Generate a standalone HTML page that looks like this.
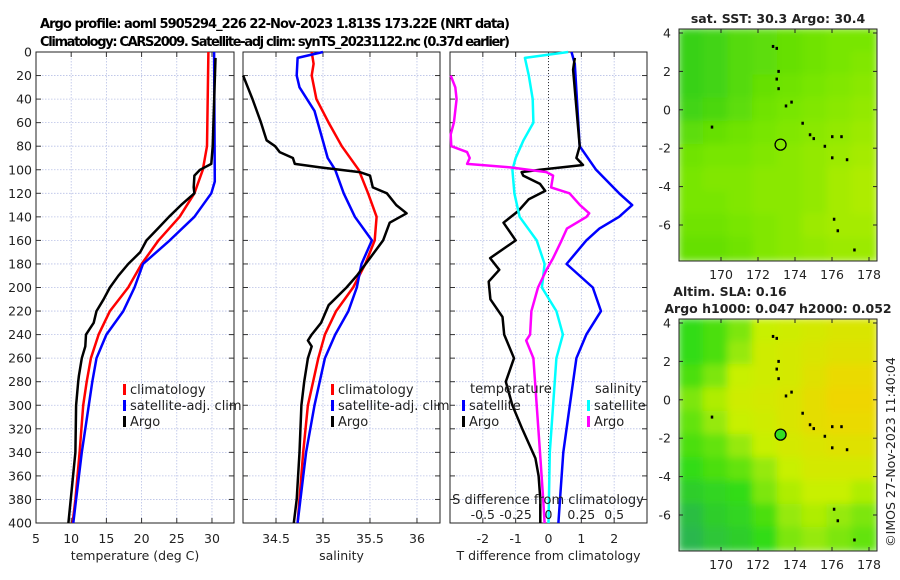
<!DOCTYPE html>
<html><head><meta charset="utf-8">
<style>
html,body{margin:0;padding:0;background:#fff;}
svg{display:block;font-family:"DejaVu Sans","Liberation Sans",sans-serif;}
</style></head>
<body>
<svg id="fig" width="900" height="580" viewBox="0 0 900 580" xmlns="http://www.w3.org/2000/svg">
<defs>
<filter id="blur1" x="0" y="0" width="1" height="1"><feGaussianBlur stdDeviation="4"/></filter>
<clipPath id="clipMap1"><rect x="679" y="29" width="198" height="232"/></clipPath>
<clipPath id="clipMap2"><rect x="679" y="319" width="198" height="232"/></clipPath>
</defs>
<text x="40" y="28" font-size="13" font-weight="bold" textLength="470">Argo profile: aoml 5905294_226 22-Nov-2023 1.813S 173.22E (NRT data)</text>
<text x="40" y="46" font-size="13" font-weight="bold" textLength="470">Climatology: CARS2009. Satellite-adj clim: synTS_20231122.nc (0.37d earlier)</text>
<g id="g"></g>
</svg>
<script>
// ---------- depth grid ----------
const depthTicks=[0,20,40,60,80,100,120,140,160,180,200,220,240,260,280,300,320,340,360,380,400];
// Temperature panel
const tempTicks=[5,10,15,20,25,30];
const tClimD=[0,80,100,120,140,160,180,200,220,240,260,280,300,340,380,400];
const tClimV=[29.5,29.3,28.7,27.5,25.4,22.4,20,18.1,15.5,13.9,12.8,12.2,11.7,11.2,10.6,10.2];
const tSatD=[0,110,120,140,160,180,200,220,240,260,280,300,340,380,400];
const tSatV=[30.3,30.4,29.9,27.5,24,20.2,19,17.4,15,13.6,13,12.5,11.5,10.7,10.3];
const tArgoD=[5,80,95,100,105,115,120,130,140,150,160,170,180,190,200,210,220,230,240,250,260,275,280,300,340,370,400];
const tArgoV=[30.5,30.1,29.9,28.3,27.5,27.4,27.5,25.6,23.9,22.3,20.7,19.8,18.1,16.7,15.5,14.6,13.6,13.2,12.1,12,11.5,11.1,11,10.7,10.6,10.1,9.6];
// Salinity panel
const salTicks=[34.5,35,35.5,36];
const sClimD=[0,10,20,40,60,80,100,120,140,160,180,200,220,240,260,300,340,400];
const sClimV=[34.88,34.9,34.88,34.93,35.06,35.2,35.38,35.48,35.57,35.55,35.45,35.32,35.14,35.02,34.95,34.84,34.79,34.73];
const sSatD=[0,5,20,30,50,70,90,100,120,140,160,180,200,220,240,260,300,340,400];
const sSatV=[35.0,34.73,34.72,34.75,34.91,34.98,35.05,35.13,35.22,35.34,35.52,35.41,35.36,35.27,35.13,35.02,34.91,34.82,34.73];
const sArgoD=[20,30,40,60,70,75,80,85,90,95,98,102,105,115,120,130,137,145,160,175,190,200,215,230,240,245,250,260,280,300,340,380,400];
const sArgoV=[34.15,34.2,34.25,34.34,34.38,34.4,34.49,34.54,34.68,34.7,34.97,35.39,35.5,35.53,35.68,35.78,35.89,35.71,35.64,35.5,35.36,35.25,35.06,34.98,34.88,34.84,34.88,34.84,34.8,34.77,34.75,34.72,34.69];
// Difference panel
const tDiffTicks=[-2,-1,0,1,2];
const sDiffTicks=[-0.5,-0.25,0,0.25,0.5];
const sDiffLabels=["-0.5","-0.25","0","0.25","0.5"];
const dTSatD=[0,10,80,100,120,130,140,150,160,180,200,220,240,260,300,340,380,400];
const dTSatV=[0.7,0.8,0.95,1.45,2.15,2.55,2.15,1.55,1.15,0.55,1.35,1.6,1.15,0.85,0.65,0.45,0.35,0.3];
const dTArgoD=[5,15,80,90,96,100,102,105,112,118,125,135,145,160,175,185,195,210,225,240,260,280,300,320,345,360,380,400];
const dTArgoV=[0.8,0.75,0.95,0.85,1.05,-0.26,-0.82,-0.77,-0.26,-0.1,-0.6,-0.92,-1.37,-1.0,-1.78,-1.5,-1.82,-1.77,-1.4,-1.35,-1.05,-1.3,-1.1,-0.8,-0.4,-0.3,-0.25,-0.25];
const dSSatD=[0,5,20,40,60,75,90,100,120,140,160,180,200,220,240,260,300,340,400];
const dSSatV=[0.15,-0.18,-0.15,-0.12,-0.115,-0.19,-0.25,-0.275,-0.26,-0.22,-0.09,-0.03,-0.05,0.06,0.11,0.06,0.035,0.01,0.0];
const dSArgoD=[20,30,40,60,70,80,85,90,95,98,102,105,115,120,130,137,140,150,160,175,185,200,220,240,245,260,300,340,380,400];
const dSArgoV=[-0.745,-0.71,-0.7,-0.72,-0.745,-0.74,-0.62,-0.6,-0.62,-0.29,-0.015,0.035,0.02,0.16,0.24,0.31,0.29,0.14,0.1,0.035,-0.015,-0.08,-0.13,-0.14,-0.17,-0.115,-0.09,-0.065,-0.04,-0.03];
// Maps
const lonTicks=[170,172,174,176,178];
const latTicks=[4,2,0,-2,-4,-6];
const sstGrid=[
[0.15,0.2,0.3,0.35,0.4,0.45,0.5,0.5],
[0.15,0.2,0.3,0.35,0.4,0.45,0.5,0.55],
[0.15,0.2,0.3,0.4,0.45,0.5,0.55,0.6],
[0.2,0.25,0.35,0.45,0.5,0.55,0.6,0.65],
[0.35,0.4,0.45,0.5,0.55,0.6,0.65,0.7],
[0.45,0.5,0.5,0.55,0.6,0.65,0.7,0.75],
[0.5,0.55,0.55,0.6,0.6,0.65,0.75,0.8],
[0.5,0.5,0.55,0.6,0.6,0.65,0.75,0.8],
[0.45,0.45,0.5,0.55,0.6,0.7,0.75,0.75],
[0.4,0.4,0.45,0.55,0.6,0.65,0.7,0.7]];
const slaGrid=[
[0.3,0.35,0.45,0.6,0.65,0.7,0.75,0.75],
[0.3,0.35,0.5,0.65,0.7,0.75,0.8,0.8],
[0.35,0.45,0.6,0.65,0.7,0.8,0.9,0.9],
[0.45,0.55,0.65,0.7,0.75,0.85,0.95,0.95],
[0.4,0.5,0.6,0.65,0.75,0.85,0.9,0.9],
[0.35,0.4,0.5,0.6,0.7,0.75,0.8,0.8],
[0.3,0.35,0.4,0.5,0.6,0.7,0.7,0.7],
[0.2,0.25,0.3,0.45,0.55,0.6,0.6,0.55],
[0.1,0.2,0.25,0.35,0.5,0.55,0.5,0.45],
[0.05,0.15,0.2,0.3,0.45,0.5,0.45,0.4]];
const coastLon=[172.8,173.0,173.1,173.0,173.1,173.5,173.8,174.4,174.8,175.0,175.6,176.0,176.5,176.0,176.8,176.1,176.3,177.2,169.5];
const coastLat=[3.3,3.2,2.0,1.6,1.1,0.2,0.4,-0.7,-1.3,-1.5,-1.9,-1.4,-1.4,-2.5,-2.6,-5.7,-6.3,-7.3,-0.9];
const argoLon=173.22, argoLat=-1.813;

const NS="http://www.w3.org/2000/svg";
const root=document.getElementById('g');
function mk(tag,attrs,parent){const e=document.createElementNS(NS,tag);for(const k in attrs)e.setAttribute(k,attrs[k]);(parent||root).appendChild(e);return e;}
function txt(x,y,s,size,anchor,parent){const t=mk('text',{x:x,y:y,'font-size':size||12,'text-anchor':anchor||'middle',fill:'#222'},parent);t.textContent=s;return t;}

const Y0=52,Y1=523;
function yD(d){return Y0+(d/400)*(Y1-Y0);}
function panel(name,x0,x1,vmin,vmax){return {name,x0,x1,f:v=>x0+(v-vmin)/(vmax-vmin)*(x1-x0)};}
const P1=panel('temperature',36,234,5,33.13);
const P2=panel('salinity',243,440,34.149,36.245);
const P3=panel('difference',450,647,-3,3);
const fS=v=>P3.f(v*4);

function frame(P,ticks,labels,xlabel,showY){
  const g=mk('g',{});
  
  
  const gr=mk('g',{},g);
  
  
  depthTicks.forEach(d=>{mk('line',{x1:P.x0,x2:P.x1,y1:yD(d),y2:yD(d),stroke:'#b8c0e6','stroke-width':0.8,'stroke-dasharray':'1.5,1.5'},gr);});
  ticks.forEach(v=>{mk('line',{x1:P.f(v),x2:P.f(v),y1:Y0,y2:Y1,stroke:'#b8c0e6','stroke-width':0.8,'stroke-dasharray':'1.5,1.5'},gr);});
  const ax=mk('g',{},g);
  
  
  depthTicks.forEach(d=>{
    mk('line',{x1:P.x0,x2:P.x0+5,y1:yD(d),y2:yD(d),stroke:'#333','stroke-width':1},ax);
    mk('line',{x1:P.x1-5,x2:P.x1,y1:yD(d),y2:yD(d),stroke:'#333','stroke-width':1},ax);
    if(showY){const t=txt(32,yD(d)+4.5,String(d),12.5,'end',ax);}
  });
  ticks.forEach((v,i)=>{
    mk('line',{x1:P.f(v),x2:P.f(v),y1:Y1,y2:Y1-5,stroke:'#333'},ax);
    mk('line',{x1:P.f(v),x2:P.f(v),y1:Y0,y2:Y0+5,stroke:'#333'},ax);
    const t=txt(P.f(v),Y1+20,labels[i],12.5,'middle',ax);
    
    
  });
  mk('rect',{x:P.x0,y:Y0,width:P.x1-P.x0,height:Y1-Y0,fill:'none',stroke:'#222','stroke-width':1},ax);
  const xl=txt((P.x0+P.x1)/2,Y1+37,xlabel,12.5,'middle',ax);
  
  
  return g;
}
function line(P,fx,D,V,color,w,name,parent){
  const pts=D.map((d,i)=>fx(V[i]).toFixed(1)+','+yD(d).toFixed(1)).join(' ');
  const p=mk('polyline',{points:pts,fill:'none',stroke:color,'stroke-width':w||2.5,'stroke-linejoin':'round'},parent);
  
  
}
function legend(x,y,items,parent){
  items.forEach((it,i)=>{
    const yy=y+i*16;
    mk('rect',{x:x,y:yy-10,width:3,height:11,fill:it[1]},parent);
    const t=txt(x+7,yy,it[0],13,'start',parent);
    
    
  });
}
// Panel 1
const g1=frame(P1,tempTicks,tempTicks.map(String),'temperature (deg C)',true);
line(P1,P1.f,tClimD,tClimV,'#ff0000',2.5,'temperature-climatology-line',g1);
line(P1,P1.f,tSatD,tSatV,'#0000ff',2.5,'temperature-satellite-line',g1);
line(P1,P1.f,tArgoD,tArgoV,'#000000',2.5,'temperature-argo-line',g1);
legend(123,394,[['climatology','#f00','climatology'],['satellite-adj. clim','#00f','satellite'],['Argo','#000','argo']],g1);
// Panel 2
const g2=frame(P2,salTicks,salTicks.map(String),'salinity',false);
line(P2,P2.f,sClimD,sClimV,'#ff0000',2.5,'salinity-climatology-line',g2);
line(P2,P2.f,sSatD,sSatV,'#0000ff',2.5,'salinity-satellite-line',g2);
line(P2,P2.f,sArgoD,sArgoV,'#000000',2.5,'salinity-argo-line',g2);
legend(331,394,[['climatology','#f00','climatology'],['satellite-adj. clim','#00f','satellite'],['Argo','#000','argo']],g2);
// Panel 3
const g3=frame(P3,tDiffTicks,tDiffTicks.map(String),'T difference from climatology',false);
const zl=mk('line',{x1:P3.f(0),x2:P3.f(0),y1:Y0,y2:Y1,stroke:'#333','stroke-width':1,'stroke-dasharray':'1,2'},g3);


line(P3,P3.f,dTSatD,dTSatV,'#0000ff',2.5,'t-diff-satellite-line',g3);
line(P3,P3.f,dTArgoD,dTArgoV,'#000000',2.5,'t-diff-argo-line',g3);
line(P3,fS,dSSatD,dSSatV,'#00ffff',2.5,'s-diff-satellite-line',g3);
line(P3,fS,dSArgoD,dSArgoV,'#ff00ff',2.5,'s-diff-argo-line',g3);
const lt=txt(470,393,'temperature',13,'start',g3);
const ls=txt(595,393,'salinity',13,'start',g3);
legend(462,410,[['satellite','#00f','t-satellite'],['Argo','#000','t-argo']],g3);
legend(587,410,[['satellite','#0ff','s-satellite'],['Argo','#f0f','s-argo']],g3);
const sdt=txt(548,504,'S difference from climatology',13,'middle',g3);


sDiffTicks.forEach((v,i)=>{const t=txt(fS(v),519,sDiffLabels[i],12.5,'middle',g3);});

// Maps
function lerpColor(stops,v){
  for(let i=0;i<stops.length-1;i++){const a=stops[i],b=stops[i+1];if(v<=b[0]){const t=(v-a[0])/(b[0]-a[0]);return 'rgb('+[1,2,3].map(k=>Math.round(a[k]+(b[k]-a[k])*t)).join(',')+')';}}
  const l=stops[stops.length-1];return 'rgb('+l[1]+','+l[2]+','+l[3]+')';
}
const sstStops=[[0,30,200,30],[0.5,120,230,0],[1,210,240,0]];
const slaStops=[[0,40,175,90],[0.3,50,220,20],[0.6,200,240,0],[1,245,210,0]];
function map(y0,grid,stops,name,clip,fillCircle){
  const x0=679,x1=877,y1=y0+232;
  const fx=lon=>721+(lon-170)*18.5;
  const fy=lat=>(y0+4)+(4-lat)*19.2;
  const g=mk('g',{});
  
  
  const cells=mk('g',{'clip-path':'url(#'+clip+')'},g);
  const inner=mk('g',{filter:'url(#blur1)'},cells);
  const rows=grid.length,cols=grid[0].length,cw=(x1-x0)/cols,ch=(y1-y0)/rows;
  mk('rect',{x:x0,y:y0,width:x1-x0,height:y1-y0,fill:lerpColor(stops,0.5)},inner);
  grid.forEach((row,r)=>row.forEach((v,c)=>{
    const rc=mk('rect',{x:x0+c*cw-1,y:y0+r*ch-1,width:cw+2,height:ch+2,fill:lerpColor(stops,v)},inner);
    
    
  }));
  coastLon.forEach((lon,i)=>{const d=mk('rect',{x:fx(lon)-1,y:fy(coastLat[i])-1.5,width:2.5,height:3,fill:'#000'},g);});
  const c=mk('circle',{cx:fx(argoLon),cy:fy(argoLat),r:5.5,fill:fillCircle||'none',stroke:'#000','stroke-width':1.3},g);
  
  
  mk('rect',{x:x0,y:y0,width:x1-x0,height:y1-y0,fill:'none',stroke:'#222'},g);
  latTicks.forEach(l=>{mk('line',{x1:x0,x2:x0+4,y1:fy(l),y2:fy(l),stroke:'#222'},g);mk('line',{x1:x1-4,x2:x1,y1:fy(l),y2:fy(l),stroke:'#222'},g);const t=txt(x0-8,fy(l)+4.5,String(l),12.5,'end',g);});
  lonTicks.forEach(l=>{mk('line',{x1:fx(l),x2:fx(l),y1:y1,y2:y1-4,stroke:'#222'},g);mk('line',{x1:fx(l),x2:fx(l),y1:y0,y2:y0+4,stroke:'#222'},g);const t=txt(fx(l),y1+18,String(l),12.5,'middle',g);});
}
map(29,sstGrid,sstStops,'sst-map','clipMap1',null);
map(319,slaGrid,slaStops,'sla-map','clipMap2','#33dd22');
const t1=txt(778,23,'sat. SST: 30.3 Argo: 30.4',12.5,'middle');t1.setAttribute('font-weight','bold');


const t2=txt(730,296,'Altim. SLA: 0.16',12.5,'middle');t2.setAttribute('font-weight','bold');


const t3=txt(778,313,'Argo h1000: 0.047 h2000: 0.052',12.5,'middle');t3.setAttribute('font-weight','bold');


const cr=txt(0,0,'©IMOS 27-Nov-2023 11:40:04',12.5,'middle');
cr.setAttribute('transform','translate(895,452) rotate(-90)');


</script>
</body></html>
